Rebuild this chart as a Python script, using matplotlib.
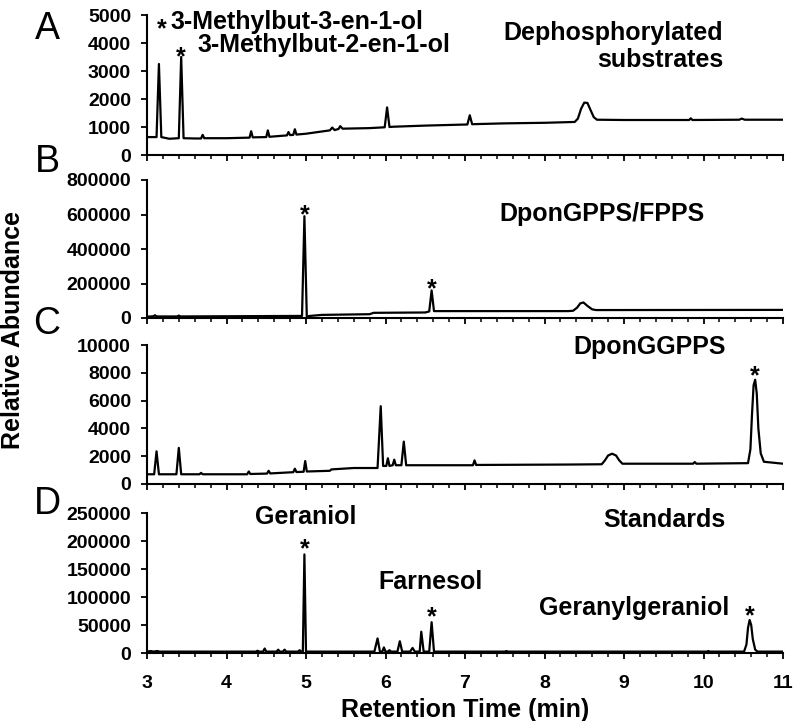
import matplotlib

matplotlib.use("Agg")
import matplotlib.pyplot as plt
from matplotlib.ticker import MultipleLocator

plt.rcParams["font.family"] = ["Liberation Sans", "DejaVu Sans"]
plt.rcParams["font.weight"] = "bold"

# A: dephosphorylated substrates
time_a = [3.00, 3.12, 3.15, 3.18, 3.28, 3.40, 3.43, 3.46, 3.60, 3.68, 3.70, 3.72,
          4.00, 4.29, 4.31, 4.33, 4.50, 4.52, 4.54, 4.76, 4.78, 4.80, 4.84, 4.86,
          4.88, 5.00, 5.30, 5.33, 5.36, 5.41, 5.43, 5.46, 5.80, 5.99, 6.02, 6.05,
          6.10, 6.50, 7.03, 7.06, 7.09, 7.50, 8.00, 8.38, 8.42, 8.46, 8.50, 8.54,
          8.58, 8.62, 8.66, 9.00, 9.82, 9.84, 9.86, 10.45, 10.48, 10.52, 11.00]
abund_a = [640, 640, 3250, 640, 580, 600, 3500, 600, 590, 590, 720, 600,
           600, 620, 850, 630, 640, 880, 650, 700, 820, 710, 720, 920,
           730, 760, 880, 980, 890, 930, 1030, 940, 960, 990, 1700, 1000,
           1010, 1050, 1090, 1420, 1100, 1130, 1150, 1180, 1300, 1650, 1870, 1860,
           1600, 1350, 1260, 1250, 1250, 1310, 1250, 1260, 1300, 1260, 1260]

# B: DponGPPS/FPPS
time_b = [3.00, 3.08, 3.10, 3.12, 3.38, 3.40, 3.42, 4.95, 4.98, 5.01, 5.05, 5.20,
          5.80, 5.85, 6.50, 6.55, 6.58, 6.61, 8.30, 8.36, 8.41, 8.45, 8.49, 8.54,
          8.60, 8.65, 11.00]
abund_b = [8000, 10000, 16000, 9000, 9000, 14000, 9000, 12000, 590000, 8000, 12000, 18000,
           22000, 30000, 32000, 38000, 160000, 40000, 40000, 42000, 60000, 85000, 90000, 70000,
           50000, 46000, 47000]

# C: DponGGPPS
time_c = [3.00, 3.09, 3.12, 3.15, 3.37, 3.40, 3.43, 3.66, 3.68, 3.70, 4.26, 4.28,
          4.30, 4.51, 4.53, 4.55, 4.84, 4.86, 4.88, 4.97, 4.99, 5.01, 5.30, 5.32,
          5.60, 5.90, 5.94, 5.97, 6.01, 6.03, 6.05, 6.09, 6.11, 6.13, 6.20, 6.23,
          6.26, 7.10, 7.12, 7.14, 8.30, 8.72, 8.76, 8.80, 8.85, 8.90, 8.94, 8.98,
          9.87, 9.89, 9.91, 10.56, 10.59, 10.61, 10.63, 10.65, 10.67, 10.69, 10.72,
          10.76, 11.00]
abund_c = [700, 700, 2350, 700, 700, 2600, 700, 700, 800, 700, 700, 900,
           720, 750, 950, 760, 850, 1100, 860, 880, 1650, 900, 950, 1050,
           1150, 1150, 5600, 1300, 1300, 1850, 1300, 1350, 1750, 1350, 1350, 3050,
           1350, 1350, 1700, 1370, 1400, 1420, 1700, 2050, 2180, 2050, 1700, 1460,
           1460, 1580, 1460, 1500, 2500, 5000, 7100, 7500, 6500, 4000, 2200,
           1600, 1460]

# D: standards
time_d = [3.00, 3.05, 3.08, 3.13, 3.16, 4.37, 4.39, 4.41, 4.46, 4.48, 4.50, 4.63,
          4.65, 4.67, 4.71, 4.73, 4.75, 4.90, 4.92, 4.94, 4.96, 4.98, 5.00, 5.86,
          5.90, 5.93, 5.96, 5.98, 6.00, 6.03, 6.05, 6.07, 6.15, 6.18, 6.21, 6.31,
          6.34, 6.37, 6.43, 6.45, 6.48, 6.55, 6.58, 6.61, 7.50, 7.52, 7.54, 10.04,
          10.06, 10.08, 10.51, 10.54, 10.56, 10.58, 10.60, 10.62, 10.65, 10.68, 11.00]
abund_d = [2500, 3500, 2500, 3500, 2500, 2500, 4000, 2500, 2500, 8000, 2500, 2500,
           6000, 2500, 2500, 6000, 2500, 2500, 5000, 2500, 2500, 176000, 2500, 2500,
           26000, 2500, 2500, 10000, 2500, 2500, 5000, 2500, 2500, 21000, 2500, 2500,
           9000, 2500, 2500, 38000, 2500, 2500, 55000, 2500, 2500, 3500, 2500, 2500,
           3500, 2500, 2500, 15000, 45000, 59000, 50000, 25000, 6000, 2500, 2500]

yticks_a = [0, 1000, 2000, 3000, 4000, 5000]
yticks_b = [0, 200000, 400000, 600000, 800000]
yticks_c = [0, 2000, 4000, 6000, 8000, 10000]
yticks_d = [0, 50000, 100000, 150000, 200000, 250000]
xticks = [3, 4, 5, 6, 7, 8, 9, 10, 11]

W, H = 801, 721
TXT = 18


def panel(fig, top, bottom, t, y, yticks, show_x=False):
    ax = fig.add_axes([147 / W, 1 - bottom / H, 636 / W, (bottom - top) / H])
    ax.plot(t, y, color="black", linewidth=1.6)
    ax.set_xlim(3, 11)
    ax.set_ylim(yticks[0], yticks[-1])
    ax.set_yticks(yticks)
    ax.set_yticklabels([str(v) for v in yticks])
    ax.set_xticks(xticks)
    ax.xaxis.set_minor_locator(MultipleLocator(0.2))
    for s in ("top", "right"):
        ax.spines[s].set_visible(False)
    for s in ("left", "bottom"):
        ax.spines[s].set_linewidth(1.5)
    ax.tick_params(axis="both", which="major", direction="out", length=4.5,
                   width=1.3, labelsize=14, pad=7)
    ax.tick_params(axis="x", which="major", pad=11)
    ax.tick_params(axis="x", which="minor", direction="out", length=3, width=1.1)
    if not show_x:
        ax.set_xticklabels([])
    return ax


def star(ax, t, v):
    ax.annotate("*", xy=(t, v), xytext=(0, -10.4), textcoords="offset points",
                ha="center", va="baseline", fontsize=TXT, fontweight="bold")


fig = plt.figure(figsize=(W / 100, H / 100), dpi=100)

ax_a = panel(fig, 15, 155, time_a, abund_a, yticks_a)
star(ax_a, 3.19, 4750)
ax_a.text(3.30, 4750, "3-Methylbut-3-en-1-ol", ha="left", va="center", fontsize=TXT)
star(ax_a, 3.43, 3750)
ax_a.text(3.63, 3930, "3-Methylbut-2-en-1-ol", ha="left", va="center", fontsize=TXT)
ax_a.text(10.25, 4360, "Dephosphorylated", ha="right", va="center", fontsize=TXT)
ax_a.text(10.25, 3390, "substrates", ha="right", va="center", fontsize=TXT)

ax_b = panel(fig, 180, 318, time_b, abund_b, yticks_b)
star(ax_b, 4.98, 640000)
star(ax_b, 6.58, 209000)
ax_b.text(10.02, 600000, "DponGPPS/FPPS", ha="right", va="center", fontsize=TXT)

ax_c = panel(fig, 345, 484, time_c, abund_c, yticks_c)
star(ax_c, 10.65, 8300)
ax_c.text(10.28, 9860, "DponGGPPS", ha="right", va="center", fontsize=TXT)

ax_d = panel(fig, 513, 653, time_d, abund_d, yticks_d, show_x=True)
star(ax_d, 4.98, 198000)
star(ax_d, 6.58, 77000)
star(ax_d, 10.58, 78000)
ax_d.text(4.99, 243000, "Geraniol", ha="center", va="center", fontsize=TXT)
ax_d.text(6.57, 127000, "Farnesol", ha="center", va="center", fontsize=TXT)
ax_d.text(10.32, 80000, "Geranylgeraniol", ha="right", va="center", fontsize=TXT)
ax_d.text(10.28, 237500, "Standards", ha="right", va="center", fontsize=TXT)
ax_d.set_xlabel("Retention Time (min)", fontsize=18, fontweight="bold", labelpad=5)

for letter, yc in (("A", 25), ("B", 158), ("C", 320), ("D", 500)):
    fig.text(47 / W, 1 - (yc + 4) / H, letter, ha="center", va="center",
             fontsize=27, fontweight="normal")

fig.text(13 / W, 1 - 330 / H, "Relative Abundance", rotation=90, ha="center",
         va="center", fontsize=18, fontweight="bold")

fig.savefig("out.png", dpi=100)
